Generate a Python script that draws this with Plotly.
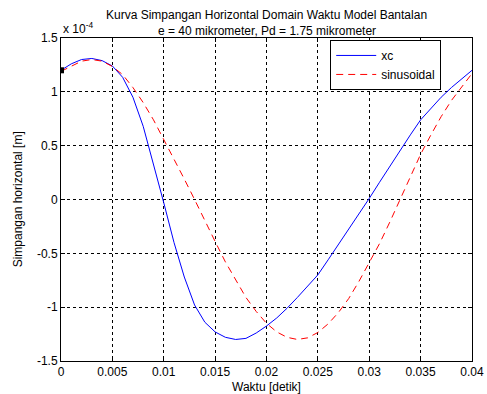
import plotly.graph_objects as go

# time [s]
t = [i / 1000 for i in range(41)]

# simpangan horizontal, units of 1e-4 m
xc = [1.20, 1.26, 1.30, 1.31, 1.29, 1.24, 1.135, 0.95, 0.68, 0.33,
      -0.03, -0.40, -0.72, -0.98, -1.14, -1.23, -1.28, -1.30, -1.29, -1.24,
      -1.175, -1.10, -1.01, -0.91, -0.81, -0.70, -0.56, -0.42, -0.28, -0.14,
      0.01, 0.16, 0.31, 0.46, 0.60, 0.74, 0.85, 0.95, 1.04, 1.12, 1.20]

sinusoidal = [1.19, 1.24, 1.285, 1.30, 1.285, 1.235, 1.16, 1.04, 0.90, 0.74,
              0.56, 0.38, 0.19, 0.00, -0.20, -0.39, -0.58, -0.75, -0.91, -1.04,
              -1.15, -1.23, -1.28, -1.30, -1.285, -1.235, -1.155, -1.05, -0.92, -0.76,
              -0.59, -0.41, -0.21, 0.00, 0.21, 0.42, 0.60, 0.77, 0.92, 1.05, 1.17]

x_ticks = [0, 0.005, 0.01, 0.015, 0.02, 0.025, 0.03, 0.035, 0.04]
x_tick_text = ["0", "0.005", "0.01", "0.015", "0.02", "0.025", "0.03", "0.035", "0.04"]
y_ticks = [-1.5, -1, -0.5, 0, 0.5, 1, 1.5]
y_tick_text = ["-1.5", "-1", "-0.5", "0", "0.5", "1", "1.5"]

FONT = "Arial, Liberation Sans, sans-serif"
FS = 12

fig = go.Figure()
fig.add_trace(go.Scatter(x=t, y=xc, mode="lines", name="xc",
                         line=dict(color="#0000ff", width=1)))
fig.add_trace(go.Scatter(x=t, y=sinusoidal, mode="lines", name="sinusoidal",
                         line=dict(color="#ff0000", width=1, dash="7px,5px")))
fig.add_trace(go.Scatter(x=[t[0]], y=[xc[0]], mode="markers", showlegend=False,
                         marker=dict(symbol="square", size=6, color="black")))

axis_common = dict(showgrid=True, gridcolor="black", griddash="dot", gridwidth=1,
                   showline=True, linecolor="black", linewidth=1, mirror="ticks",
                   ticks="inside", ticklen=4, tickcolor="black", zeroline=False,
                   automargin=False,
                   tickfont=dict(family=FONT, size=FS, color="black"))

fig.update_xaxes(range=[0, 0.04], tickvals=x_ticks, ticktext=x_tick_text, **axis_common)
fig.update_yaxes(range=[-1.5, 1.5], tickvals=y_ticks, ticktext=y_tick_text, **axis_common)

fig.update_layout(
    width=487, height=394,
    margin=dict(l=61, r=15, t=38, b=33),
    paper_bgcolor="white", plot_bgcolor="white",
    font=dict(family=FONT, size=FS, color="black"),
    legend=dict(x=0.655, y=0.994, xanchor="left", yanchor="top",
                bgcolor="white", bordercolor="black", borderwidth=1,
                font=dict(family=FONT, size=FS, color="black"),
                tracegroupgap=0, itemwidth=40),
    annotations=[
        dict(text="Kurva Simpangan Horizontal Domain Waktu Model Bantalan",
             xref="paper", yref="paper", x=0.5, y=1.071, xanchor="center",
             yanchor="middle", showarrow=False, font=dict(size=FS)),
        dict(text="e = 40 mikrometer, Pd = 1.75 mikrometer",
             xref="paper", yref="paper", x=0.5, y=1.0226, xanchor="center",
             yanchor="middle", showarrow=False, font=dict(size=FS)),
        dict(text="x 10<sup>-4</sup>", xref="paper", yref="paper", x=0, y=1.03,
             xanchor="left", yanchor="middle", showarrow=False, font=dict(size=FS)),
        dict(text="Simpangan horizontal [m]", xref="paper", yref="paper",
             x=-0.105, y=0.5, xanchor="center", yanchor="middle", textangle=-90,
             showarrow=False, font=dict(size=FS)),
        dict(text="Waktu [detik]", xref="paper", yref="paper", x=0.5, y=-0.079,
             xanchor="center", yanchor="middle", showarrow=False, font=dict(size=FS)),
    ],
)

fig.write_html("out.html")
